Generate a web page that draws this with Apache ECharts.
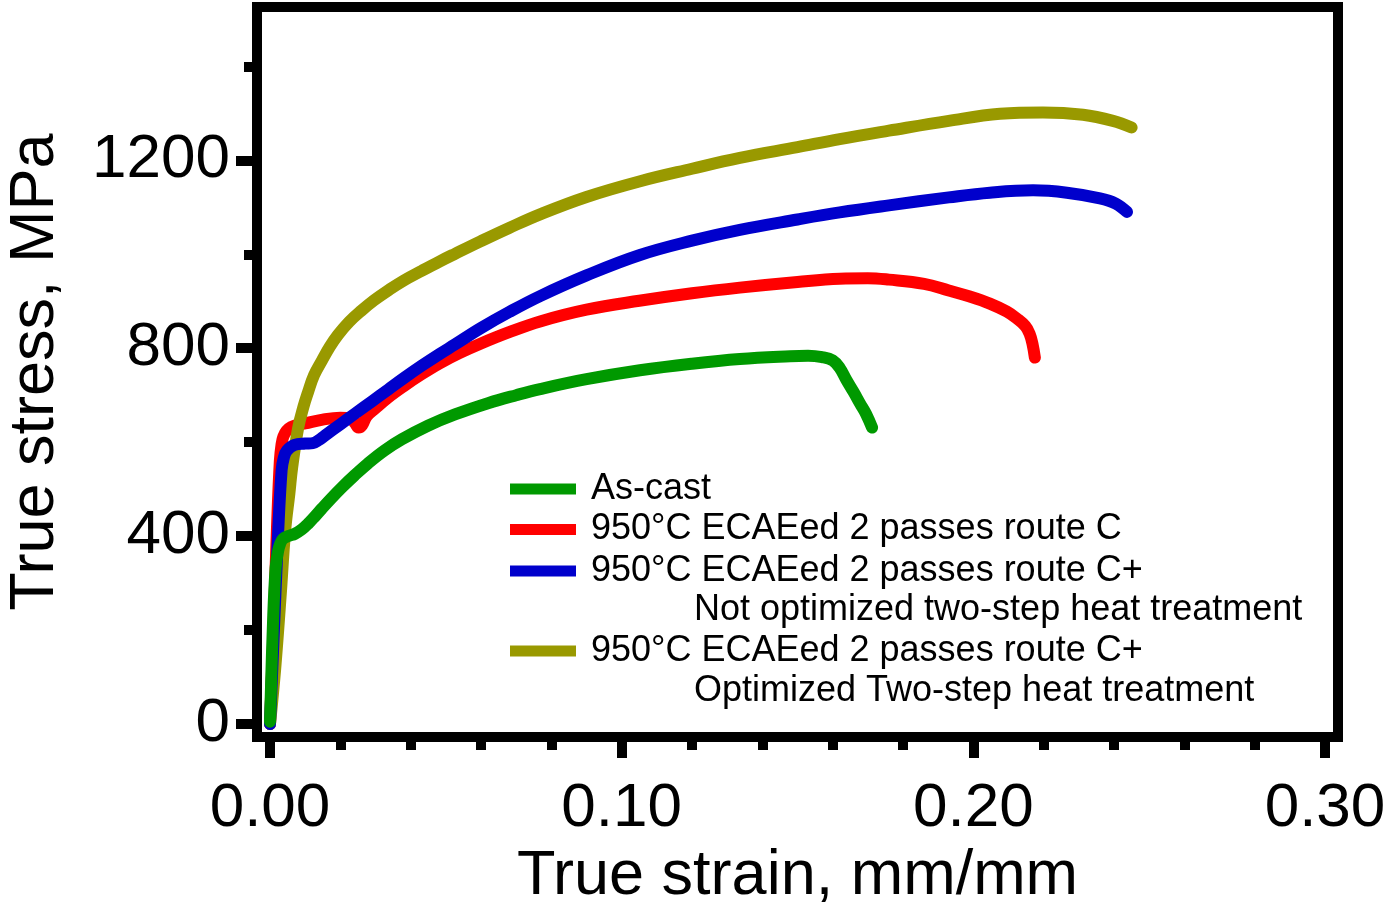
<!DOCTYPE html>
<html>
<head>
<meta charset="utf-8">
<script src="https://cdn.jsdelivr.net/npm/echarts@6/dist/echarts.min.js"></script>
<style>
html,body{margin:0;padding:0;background:#fff;}
#chart{width:1389px;height:906px;}
</style>
</head>
<body>
<div id="chart"></div>
<script>
// ---- data (true strain mm/mm, true stress MPa) ----
const seriesNames = [
  'As-cast',
  '950°C ECAEed 2 passes route C',
  '950°C ECAEed 2 passes route C+ Not optimized two-step heat treatment',
  '950°C ECAEed 2 passes route C+ Optimized Two-step heat treatment'
];
const legendLine1 = ['As-cast', '950°C ECAEed 2 passes route C', '950°C ECAEed 2 passes route C+', '950°C ECAEed 2 passes route C+'];
const legendLine2 = ['', '', 'Not optimized two-step heat treatment', 'Optimized Two-step heat treatment'];
const seriesColors = ['#009900', '#ff0000', '#0000cc', '#999900'];

const asCast = [
  [0,5],[0.0009,226],[0.0016,332],[0.0022,365],[0.0029,384],[0.0037,394],[0.0052,400],[0.0071,405],
  [0.009,414],[0.0108,426],[0.0128,442],[0.0148,459],[0.0175,481],[0.0205,504],[0.024,529],
  [0.0279,555],[0.0325,582],[0.0375,606],[0.0449,635],[0.0526,659],[0.062,683],[0.07,700],
  [0.0768,713],[0.09,734],[0.1052,753],[0.12,767],[0.1336,777],[0.1479,783],[0.153,784],[0.157,781],
  [0.16,774],[0.162,758],[0.164,731],[0.166,706],[0.1678,682],[0.1695,660],[0.1712,631]
];
const routeC = [
  [0,0],[0.001,200],[0.002,420],[0.0028,560],[0.0033,596],[0.0038,612],[0.0047,624],[0.006,632],
  [0.008,637],[0.01,640],[0.015,648],[0.02,652],[0.023,650],[0.0242,640],[0.0252,631],[0.0262,636],
  [0.0275,655],[0.03,672],[0.0336,695],[0.038,719],[0.0432,745],[0.0483,768],[0.054,790],[0.06,810],
  [0.068,834],[0.0768,857],[0.09,882],[0.105,901],[0.12,917],[0.1336,929],[0.15,941],[0.162,948],
  [0.17,949],[0.176,946],[0.186,937],[0.193,923],[0.199,910],[0.2047,895],[0.2095,878],[0.2124,863],
  [0.2148,847],[0.216,831],[0.2168,810],[0.2175,780]
];
const routeCNotOpt = [
  [0,0],[0.001,180],[0.0023,405],[0.0033,540],[0.0039,566],[0.0048,582],[0.007,594],[0.01,597],
  [0.0122,598],[0.0138,604],[0.0156,614],[0.02,638],[0.0242,661],[0.029,687],[0.0336,712],
  [0.038,736],[0.0432,763],[0.0483,788],[0.0526,808],[0.06,843],[0.068,877],[0.0768,911],
  [0.09,955],[0.105,998],[0.12,1029],[0.1336,1052],[0.15,1074],[0.162,1089],[0.176,1104],
  [0.193,1121],[0.2047,1131],[0.217,1136],[0.2266,1131],[0.236,1119],[0.2405,1108],[0.2437,1090]
];
const routeCOpt = [
  [0,0],[0.0015,120],[0.003,270],[0.0043,411],[0.0055,490],[0.0063,546],[0.008,630],[0.0095,675],
  [0.0108,706],[0.0125,742],[0.0148,774],[0.017,803],[0.0193,828],[0.0225,856],[0.026,880],
  [0.0296,902],[0.0336,923],[0.038,944],[0.0432,965],[0.0483,985],[0.0526,1001],[0.06,1028],
  [0.068,1056],[0.0768,1085],[0.09,1122],[0.105,1155],[0.12,1182],[0.1336,1205],[0.15,1228],
  [0.162,1245],[0.176,1263],[0.193,1284],[0.2076,1299],[0.2198,1302],[0.2312,1297],[0.2397,1284],[0.245,1270]
];
const seriesData = [asCast, routeC, routeCNotOpt, routeCOpt];
const xTickLabels = ['0.00', '0.10', '0.20', '0.30'];
const yTickLabels = ['0', '400', '800', '1200'];

const FONT = "'Liberation Sans', Arial, sans-serif";
const chart = echarts.init(document.getElementById('chart'));

// drawing order bottom -> top: red, olive, blue, green
const drawOrder = [1, 3, 2, 0];
const series = drawOrder.map(i => ({
  name: seriesNames[i],
  type: 'line',
  data: seriesData[i],
  showSymbol: false,
  symbol: 'none',
  clip: false,
  smooth: 0.4,
  color: seriesColors[i],
  itemStyle: { color: seriesColors[i] },
  lineStyle: { color: seriesColors[i], width: 12, cap: 'round', join: 'round' },
  emphasis: { disabled: true },
  silent: true
}));

const legendBase = {
  orient: 'vertical',
  left: 510,
  padding: 0,
  itemWidth: 66,
  itemHeight: 11,
  icon: 'rect',
  selectedMode: false,
  itemGap: 4.5,
  formatter: name => legendLine1[seriesNames.indexOf(name)],
  textStyle: { fontSize: 36, color: '#000', fontFamily: FONT, padding: [0, 0, 0, 10] }
};

const option = {
  animation: false,
  backgroundColor: '#fff',
  grid: { left: 270, right: 64, top: -27.6, bottom: 182, containLabel: false, outerBoundsMode: 'none' },
  xAxis: {
    type: 'value',
    min: 0, max: 0.3, interval: 0.1,
    offset: 18,
    axisLine: { show: false, onZero: false },
    splitLine: { show: false },
    axisTick: { show: true, inside: false, length: 16, lineStyle: { color: '#000', width: 10 } },
    minorTick: { show: true, splitNumber: 5, length: 8, lineStyle: { color: '#000', width: 10 } },
    axisLabel: {
      margin: 36, fontSize: 62, color: '#000', fontFamily: FONT,
      formatter: v => { const i = Math.round(v * 10); return xTickLabels[i] !== undefined ? xTickLabels[i] : ''; }
    },
    name: 'True strain, mm/mm',
    nameLocation: 'middle',
    nameGap: 97,
    nameTextStyle: { fontSize: 63, color: '#000', fontFamily: FONT }
  },
  yAxis: {
    type: 'value',
    min: 0, max: 1600, interval: 400,
    offset: 18,
    axisLine: { show: false, onZero: false },
    splitLine: { show: false },
    axisTick: { show: true, inside: false, length: 16, lineStyle: { color: '#000', width: 10 } },
    minorTick: { show: true, splitNumber: 2, length: 8, lineStyle: { color: '#000', width: 10 } },
    axisLabel: {
      margin: 22, fontSize: 62, color: '#000', fontFamily: FONT,
      formatter: v => { const i = Math.round(v / 400); return (v <= 1200 && yTickLabels[i] !== undefined) ? yTickLabels[i] : ''; }
    }
  },
  legend: [
    Object.assign({}, legendBase, { top: 471, data: [seriesNames[0], seriesNames[1]] }),
    Object.assign({}, legendBase, { top: 553, data: [seriesNames[2]] }),
    Object.assign({}, legendBase, { top: 633, data: [seriesNames[3]] })
  ],
  graphic: [
    { type: 'rect', shape: { x: 257, y: 7, width: 1081, height: 730 },
      style: { fill: 'none', stroke: '#000', lineWidth: 10 }, z: 100, silent: true },
    { type: 'text', x: 694, y: 610, silent: true,
      style: { text: legendLine2[2], fontSize: 36, fontFamily: FONT, fill: '#000', verticalAlign: 'middle', align: 'left' } },
    { type: 'text', x: 694, y: 691, silent: true,
      style: { text: legendLine2[3], fontSize: 36, fontFamily: FONT, fill: '#000', verticalAlign: 'middle', align: 'left' } },
    { type: 'text', x: 36, y: 372, rotation: Math.PI / 2, silent: true,
      style: { text: 'True stress, MPa', fontSize: 63, fontFamily: FONT, fill: '#000', verticalAlign: 'middle', align: 'center' } }
  ],
  series: series
};
chart.setOption(option);
</script>
</body>
</html>
